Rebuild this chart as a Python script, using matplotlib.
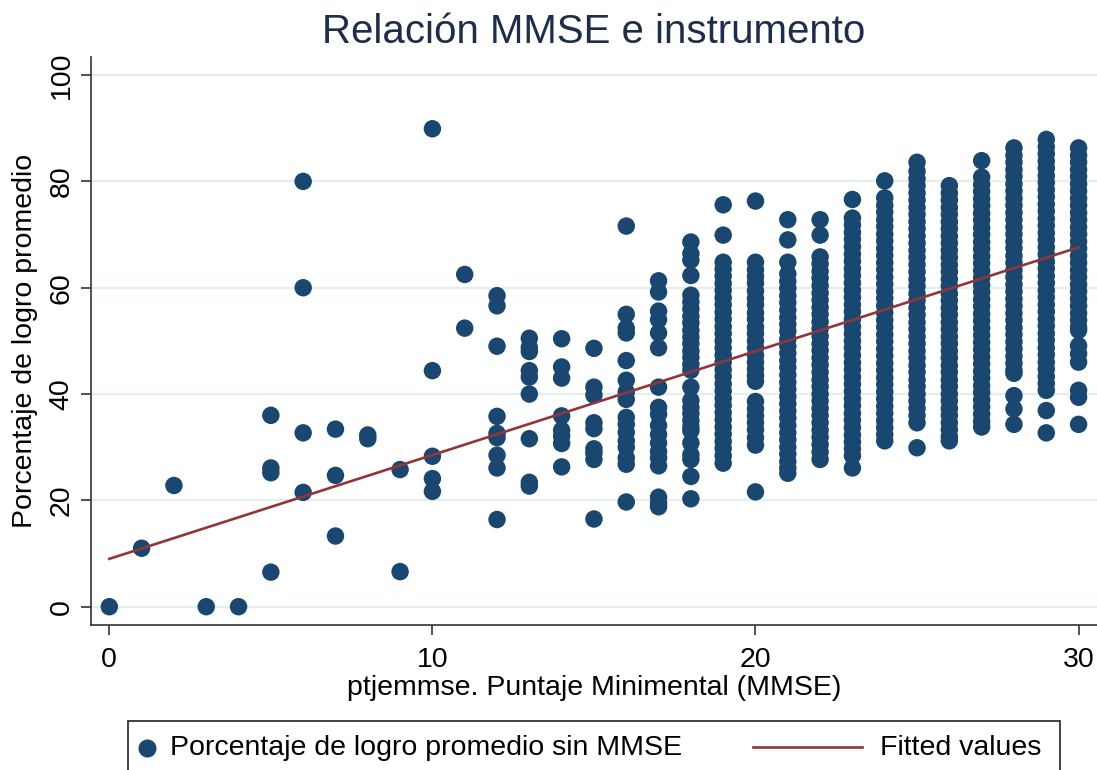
import matplotlib
matplotlib.use("Agg")
import matplotlib.pyplot as plt
from matplotlib.lines import Line2D
from matplotlib.patches import Rectangle

plt.rcParams['font.family'] = ['Liberation Sans', 'DejaVu Sans']

# ---- data: achievement (%) by MMSE score ----
p00 = [0.0]
p01 = [11.0]
p02 = [22.8]
p03 = [0.0]
p04 = [0.0]
p05 = [36.0, 26.1, 25.2, 6.5]
p06 = [80.0, 60.0, 32.7, 21.5]
p07 = [33.4, 24.7, 13.3]
p08 = [32.3, 31.6]
p09 = [25.8, 6.6]
p10 = [89.9, 44.4, 28.3, 24.1, 21.7]
p11 = [62.5, 52.4]
p12 = [58.5, 56.6, 49.0, 35.8, 32.6, 31.8, 28.5, 26.1, 16.4]
p13 = [50.5, 48.8, 48.0, 44.4, 43.2, 40.0, 31.6, 23.4, 22.7]
p14 = [50.4, 45.1, 43.0, 35.9, 33.2, 32.1, 30.7, 26.3]
p15 = [48.6, 41.3, 39.8, 34.6, 33.5, 29.7, 28.9, 27.7, 16.5]
p16 = [71.6, 55.0, 52.4, 51.5, 46.3, 42.6, 40.4, 39.0, 35.6, 34.3, 32.8,
       31.2, 30.0, 28.0, 26.8, 19.7]
p17 = [61.3, 59.2, 55.6, 54.0, 51.5, 48.7, 41.3, 37.5, 36.2, 34.1, 32.4,
       30.8, 29.2, 28.0, 26.5, 20.6, 19.5, 18.8]
p18 = [68.6, 66.4, 65.2, 62.3, 58.6, 57.3, 56.0, 54.6, 53.4, 52.0, 50.7,
       49.5, 48.1, 46.9, 45.6, 44.5, 41.3, 38.8, 37.5, 36.3, 35.0, 33.8,
       33.1, 30.8, 28.6, 27.7, 24.5, 20.3]
p19 = [75.6, 69.9, 64.8, 63.5, 62.2, 60.8, 59.5, 58.1, 56.8, 55.4, 54.1,
       52.7, 51.4, 50.0, 48.7, 47.3, 46.0, 44.6, 43.3, 41.9, 40.6, 39.2,
       37.9, 36.5, 35.2, 33.8, 32.5, 31.1, 29.8, 28.4, 27.0]
p20 = [76.3, 64.8, 63.4, 62.1, 60.9, 59.4, 58.0, 56.8, 55.3, 54.1, 52.6,
       51.4, 50.0, 48.7, 47.3, 46.0, 44.7, 43.5, 42.4, 38.6, 37.2, 35.9,
       34.6, 33.3, 31.8, 30.4, 21.6]
p21 = [72.8, 69.0, 64.8, 62.6, 61.2, 59.9, 58.5, 57.2, 55.8, 54.4, 53.1,
       51.8, 50.3, 49.0, 47.7, 46.3, 45.0, 43.6, 42.2, 40.9, 39.5, 38.2,
       36.8, 35.5, 34.1, 32.7, 31.4, 30.0, 28.7, 27.3, 26.1, 25.1]
p22 = [72.8, 69.9, 65.8, 64.5, 63.1, 61.8, 60.4, 59.0, 57.7, 56.3, 55.0,
       53.6, 52.3, 50.9, 49.5, 48.2, 46.8, 45.5, 44.1, 42.7, 41.4, 40.0,
       38.7, 37.3, 36.0, 34.6, 33.2, 31.9, 30.5, 29.1, 27.7]
p23 = [76.6, 73.1, 71.8, 70.4, 69.1, 67.7, 66.3, 65.0, 63.6, 62.3, 60.9,
       59.5, 58.2, 56.8, 55.5, 54.1, 52.7, 51.4, 50.0, 48.7, 47.3, 45.9,
       44.6, 43.2, 41.9, 40.5, 39.1, 37.8, 36.4, 35.1, 33.7, 32.3, 31.0,
       29.7, 28.4, 26.1]
p24 = [80.1, 76.9, 75.5, 74.2, 72.8, 71.5, 70.1, 68.8, 67.4, 66.1, 64.7,
       63.4, 62.0, 60.7, 59.3, 58.0, 56.6, 55.3, 53.9, 52.6, 51.2, 49.9,
       48.5, 47.2, 45.8, 44.5, 43.1, 41.8, 40.4, 39.1, 37.7, 36.4, 35.0,
       33.7, 32.4, 31.2]
p25 = [83.6, 81.9, 80.5, 79.2, 77.8, 76.5, 75.1, 73.8, 72.4, 71.1, 69.7,
       68.4, 67.0, 65.7, 64.3, 63.0, 61.6, 60.3, 58.9, 57.6, 56.2, 54.9,
       53.5, 52.2, 50.8, 49.5, 48.1, 46.8, 45.4, 44.1, 42.7, 41.4, 40.0,
       38.7, 37.3, 36.0, 34.6, 29.9]
p26 = [79.2, 77.8, 76.5, 75.1, 73.8, 72.4, 71.1, 69.7, 68.4, 67.0, 65.7,
       64.3, 63.0, 61.6, 60.3, 58.9, 57.6, 56.2, 54.9, 53.5, 52.2, 50.8,
       49.5, 48.1, 46.8, 45.4, 44.1, 42.7, 41.4, 40.0, 38.7, 37.3, 36.0,
       34.6, 33.3, 32.0, 31.2]
p27 = [83.9, 80.8, 79.4, 78.1, 76.7, 75.4, 74.0, 72.7, 71.3, 70.0, 68.6,
       67.3, 65.9, 64.6, 63.2, 61.9, 60.5, 59.2, 57.8, 56.5, 55.1, 53.8,
       52.4, 51.1, 49.7, 48.4, 47.0, 45.7, 44.3, 43.0, 41.6, 40.3, 38.9,
       37.6, 36.2, 34.9, 33.8]
p28 = [86.3, 84.9, 83.6, 82.2, 80.9, 79.5, 78.2, 76.8, 75.5, 74.1, 72.8,
       71.4, 70.1, 68.7, 67.4, 66.0, 64.7, 63.3, 62.0, 60.6, 59.3, 57.9,
       56.6, 55.2, 53.9, 52.5, 51.2, 49.8, 48.5, 47.1, 45.8, 44.5, 43.9,
       39.7, 37.2, 34.3]
p29 = [87.9, 86.5, 85.2, 83.8, 82.5, 81.1, 79.8, 78.4, 77.1, 75.7, 74.4,
       73.0, 71.7, 70.3, 69.0, 67.6, 66.3, 64.9, 63.6, 62.2, 60.9, 59.5,
       58.2, 56.8, 55.5, 54.1, 52.8, 51.4, 50.1, 48.7, 47.4, 46.0, 44.7,
       43.3, 42.0, 40.7, 36.9, 32.7]
p30 = [86.3, 84.9, 83.6, 82.2, 80.9, 79.5, 78.2, 76.8, 75.5, 74.1, 72.8,
       71.4, 70.1, 68.7, 67.4, 66.0, 64.7, 63.3, 62.0, 60.6, 59.3, 57.9,
       56.6, 55.2, 53.9, 52.6, 52.0, 49.1, 47.6, 46.0, 40.7, 39.4, 34.3]

columns = [p00, p01, p02, p03, p04, p05, p06, p07, p08, p09, p10,
           p11, p12, p13, p14, p15, p16, p17, p18, p19, p20,
           p21, p22, p23, p24, p25, p26, p27, p28, p29, p30]

# fitted regression line
fit_x = [0, 30]
fit_y = [9.0, 67.6]

x_ticks = [0, 10, 20, 30]
y_ticks = [0, 20, 40, 60, 80, 100]

title = "Relación MMSE e instrumento"
xlabel = "ptjemmse. Puntaje Minimental (MMSE)"
ylabel = "Porcentaje de logro promedio"
legend_scatter = "Porcentaje de logro promedio sin MMSE"
legend_line = "Fitted values"

# ---- build point arrays ----
xs, ys = [], []
for score, vals in enumerate(columns):
    xs.extend([score] * len(vals))
    ys.extend(vals)

W, H = 1097, 770
fig = plt.figure(figsize=(W / 100, H / 100), dpi=100)
fig.patch.set_facecolor('white')

ax_l, ax_r, ax_t, ax_b = 90.7, 1097, 57, 625
ax = fig.add_axes([ax_l / W, 1 - ax_b / H, (ax_r - ax_l) / W, (ax_b - ax_t) / H])

navy = '#1a476f'
maroon = '#90353b'
fs = 20.5

ax.scatter(xs, ys, s=158, color=navy, edgecolors='none', zorder=3)
ax.plot(fit_x, fit_y, color=maroon, lw=1.9, zorder=4)

ax.set_xlim(-0.576, 30.57)
ax.set_ylim(-3.44, 103.4)
ax.set_xticks(x_ticks)
ax.set_yticks(y_ticks)
ax.grid(axis='y', color='#e3eef1', lw=1.6, zorder=0)
ax.set_axisbelow(True)

for side in ['top', 'right']:
    ax.spines[side].set_visible(False)
for side in ['left', 'bottom']:
    ax.spines[side].set_color('#333333')
    ax.spines[side].set_linewidth(1.2)

ax.tick_params(axis='both', direction='out', length=7.5, width=1.1,
               color='#222222', labelsize=fs, labelcolor='black')
ax.tick_params(axis='x', pad=8)
ax.tick_params(axis='y', pad=4)
for lbl in ax.get_yticklabels():
    lbl.set_rotation(90)
    lbl.set_va('center')

ax.set_xlabel(xlabel, fontsize=fs, labelpad=2)
ax.set_ylabel(ylabel, fontsize=fs, labelpad=8)

fig.text(594 / W, 1 - 32 / H, title, fontsize=29, color='#1e2d4a',
         ha='center', va='center')

# ---- legend (Stata style, bottom box) ----
fig.add_artist(Rectangle((128 / W, 1 - 790 / H), (1060 - 128) / W, (790 - 721) / H,
                         transform=fig.transFigure, facecolor='white',
                         edgecolor='#333333', lw=1.3))
fig.add_artist(Line2D([147 / W], [1 - 748 / H], transform=fig.transFigure,
                      marker='o', markersize=12, color=navy, linestyle='none'))
fig.text(170 / W, 1 - 748 / H, legend_scatter, fontsize=fs, ha='left', va='center')
fig.add_artist(Line2D([753 / W, 862 / W], [1 - 747 / H, 1 - 747 / H],
                      transform=fig.transFigure, color=maroon, lw=1.9))
fig.text(880 / W, 1 - 748 / H, legend_line, fontsize=fs, ha='left', va='center')

fig.savefig('out.png', dpi=100)
